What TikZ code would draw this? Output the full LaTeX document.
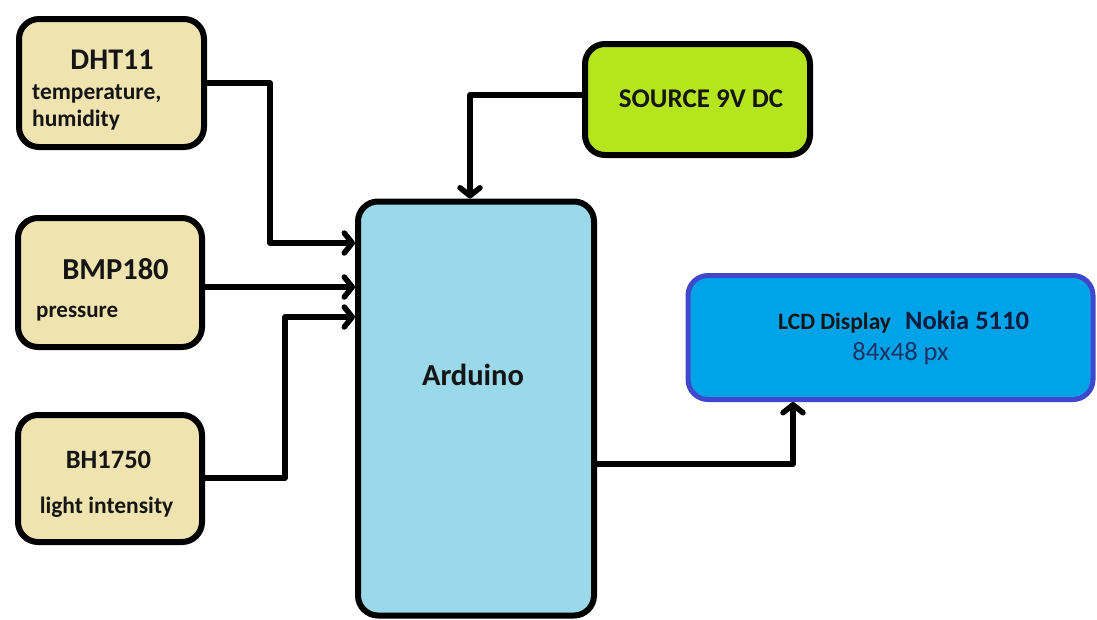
\documentclass[tikz,border=0pt]{standalone}
\usepackage{fontspec}
\setmainfont{Carlito}
\usetikzlibrary{arrows.meta}
\definecolor{beige}{HTML}{EFE4B0}
\definecolor{ardblue}{HTML}{99D9EA}
\definecolor{lime}{HTML}{B5E61D}
\definecolor{lcdfill}{HTML}{00A2E8}
\definecolor{lcdborder}{HTML}{3F48CC}
\definecolor{txt}{HTML}{151515}
\definecolor{navy}{HTML}{0E1B3C}
\definecolor{pxblue}{HTML}{1B3563}
\tikzset{
  blk/.style={draw=black, line width=6pt, rounded corners=20pt, inner sep=0pt},
  sens/.style={blk, fill=beige},
  lbl/.style={inner sep=0pt, text=txt, font=\bfseries},
  arr/.style={line width=5.5pt, line join=round, -{Straight Barb[length=8pt,width=20pt,line cap=round,line join=round]}},
}
\newcommand{\fsz}[1]{\fontsize{#1}{#1}\selectfont}
\begin{document}
\begin{tikzpicture}[x=1pt,y=-1pt]
\useasboundingbox (0,0) rectangle (1097,619);
% boxes
\node[sens, minimum width=185, minimum height=128] (dht) at (111.5,83) {};
\node[sens, minimum width=184, minimum height=129] (bmp) at (110,282.5) {};
\node[sens, minimum width=184, minimum height=127] (bh) at (110,478.5) {};
\node[blk, fill=ardblue, minimum width=236, minimum height=414] (ard) at (476,408.5) {};
\node[blk, fill=lime, minimum width=225, minimum height=111] (src) at (697.5,99.5) {};
\node[blk, draw=lcdborder, line width=5pt, fill=lcdfill, minimum width=405, minimum height=124] (lcd) at (890.5,337.5) {};
% texts
\node[lbl, font=\bfseries\fsz{30}, anchor=base] (t1) at (112,69) {DHT11};
\node[lbl, font=\bfseries\fsz{23.5}, anchor=base west] (t2) at (32,99) {temperature,};
\node[lbl, font=\bfseries\fsz{23.5}, anchor=base west] (t3) at (32,126) {humidity};
\node[lbl, font=\bfseries\fsz{30.5}, anchor=base] (t4) at (115.5,279) {BMP180};
\node[lbl, font=\bfseries\fsz{23}, anchor=base west] (t5) at (36,317) {pressure};
\node[lbl, font=\bfseries\fsz{26.5}, anchor=base] (t6) at (108.5,468) {BH1750};
\node[lbl, font=\bfseries\fsz{23.5}, anchor=base] (t7) at (106.5,513) {light intensity};
\node[lbl, font=\bfseries\fsz{30.5}, anchor=base] (t8) at (473,385) {Arduino};
\node[lbl, font=\bfseries\fsz{27}, anchor=base] (t9) at (701,107) {SOURCE 9V DC};
\node[lbl, font=\bfseries\fsz{23.5}, anchor=base west] (t10) at (778,329) {LCD Display};
\node[lbl, text=navy, font=\bfseries\fsz{26.5}, anchor=base west] (t11) at (905,329) {Nokia 5110};
\node[lbl, text=pxblue, font=\fsz{26.5}, anchor=base] (t12) at (900.5,360) {84x48 px};
% connectors
\draw[arr] (dht.east) -- (270,83) |- (ard.west |- 0,243);
\draw[arr] (bmp.east |- 0,287) -- (ard.west |- 0,287);
\draw[arr] (bh.east |- 0,478) -- (285,478) |- (ard.west |- 0,317);
\draw[arr] (src.west |- 0,95) -| (ard.north -| 470,0);
\draw[arr] (ard.east |- 0,464) -| (lcd.south -| 793,0);
\end{tikzpicture}
\end{document}
